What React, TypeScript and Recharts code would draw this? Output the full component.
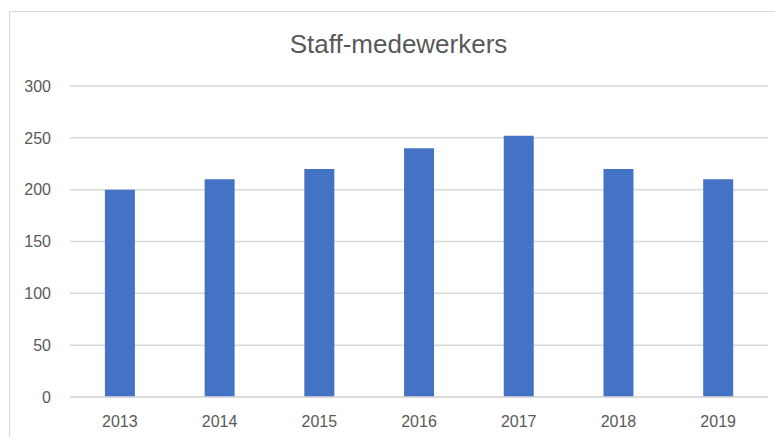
import React from 'react';
import { BarChart, Bar, XAxis, YAxis, CartesianGrid } from 'recharts';

const years = ['2013', '2014', '2015', '2016', '2017', '2018', '2019'];
const staff = [200, 210, 220, 240, 252, 220, 210];
const yTicks = [0, 50, 100, 150, 200, 250, 300];

const data = years.map((year, i) => ({ year, staff: staff[i] }));

const textColor = '#595959';
const gridColor = '#d9d9d9';
const barColor = '#4472C4';
const font = '"Liberation Sans", Arial, sans-serif';

const App: React.FC = () => {
  return (
    <div
      style={{
        position: 'absolute',
        left: 0,
        top: 0,
        width: 775,
        height: 437,
        overflow: 'hidden',
        background: '#fff',
        fontFamily: font,
      }}
    >
      <div
        style={{
          position: 'absolute',
          left: 9,
          top: 11,
          width: 800,
          height: 460,
          border: `1px solid ${gridColor}`,
        }}
      />
      <div
        style={{
          position: 'absolute',
          left: 0,
          width: 797,
          top: 29,
          textAlign: 'center',
          fontSize: 26,
          color: textColor,
        }}
      >
        Staff-medewerkers
      </div>
      <div style={{ position: 'absolute', left: 0, top: 0 }}>
        <BarChart
          width={775}
          height={437}
          data={data}
          margin={{ top: 86, right: 7, bottom: 0, left: 0 }}
          barCategoryGap="35%"
        >
          <CartesianGrid vertical={false} stroke={gridColor} strokeWidth={1.5} />
          <XAxis
            dataKey="year"
            height={40}
            axisLine={{ stroke: gridColor, strokeWidth: 1.5 }}
            tickLine={false}
            tickSize={0}
            tickMargin={19}
            tick={{ fill: textColor, fontSize: 16, fontFamily: font }}
          />
          <YAxis
            width={70}
            domain={[0, 300]}
            ticks={yTicks}
            axisLine={false}
            tickLine={false}
            tickSize={0}
            tickMargin={19}
            tick={{ fill: textColor, fontSize: 16, fontFamily: font }}
          />
          <Bar dataKey="staff" fill={barColor} isAnimationActive={false} />
        </BarChart>
      </div>
    </div>
  );
};

export default App;
